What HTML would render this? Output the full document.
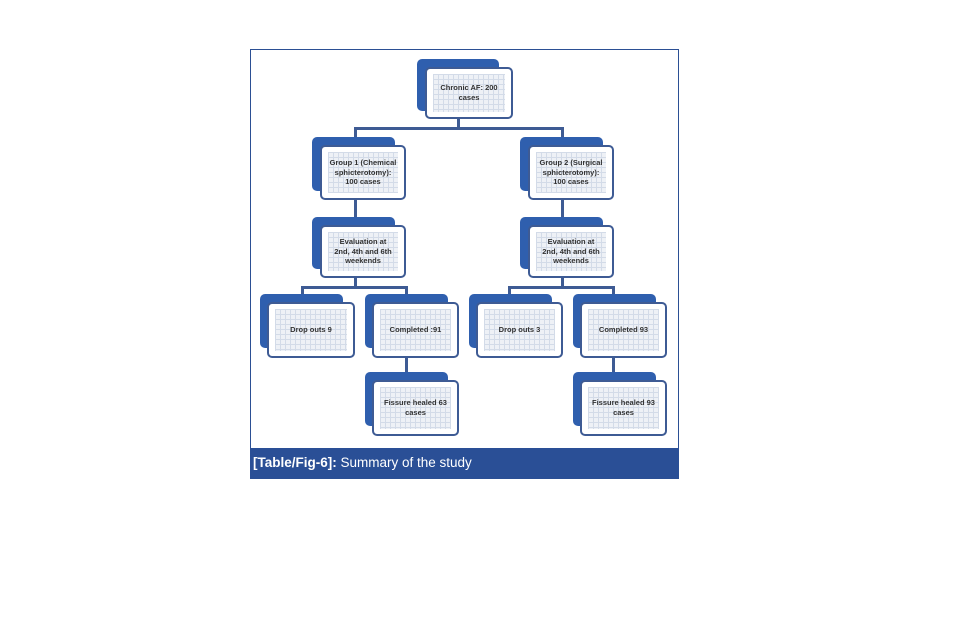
<!DOCTYPE html>
<html><head><style>
body{margin:0;width:957px;height:641px;background:#fff;position:relative;overflow:hidden;font-family:"Liberation Sans",sans-serif}
.frame{position:absolute;left:250px;top:49px;width:427px;height:428px;border:1px solid #2b4f94}
.cap{position:absolute;left:250px;top:448px;width:429px;height:30px;background:#2a4f96;color:#fff;font-size:13.5px;line-height:30px;padding-left:3px;box-sizing:border-box}
.back{position:absolute;background:#2f5fae;border-radius:5px}
.front{position:absolute;background:#fff;border:2px solid #3e5b94;border-radius:5px;box-sizing:border-box;display:flex;align-items:center;justify-content:center;text-align:center;font-size:7.5px;font-weight:bold;color:#333;line-height:1.3}
.front::before{content:"";position:absolute;left:6px;right:6px;top:5px;bottom:5px;background-color:#eef1f6;background-image:linear-gradient(#d3dbe8 1px,transparent 1px),linear-gradient(90deg,#d3dbe8 1px,transparent 1px);background-size:5px 5px;z-index:0}
.front span{position:relative;z-index:1}
.l{position:absolute;background:#3e5b94}
</style></head><body>
<div class="frame"></div>
<div class="l" style="left:457px;top:118px;width:3px;height:11px"></div>
<div class="l" style="left:354px;top:127px;width:210px;height:3px"></div>
<div class="l" style="left:354px;top:127px;width:3px;height:12px"></div>
<div class="l" style="left:561px;top:127px;width:3px;height:12px"></div>
<div class="l" style="left:354px;top:198px;width:3px;height:20px"></div>
<div class="l" style="left:561px;top:198px;width:3px;height:20px"></div>
<div class="l" style="left:354px;top:276px;width:3px;height:11px"></div>
<div class="l" style="left:561px;top:276px;width:3px;height:11px"></div>
<div class="l" style="left:301px;top:286px;width:107px;height:3px"></div>
<div class="l" style="left:508px;top:286px;width:107px;height:3px"></div>
<div class="l" style="left:301px;top:286px;width:3px;height:9px"></div>
<div class="l" style="left:405px;top:286px;width:3px;height:9px"></div>
<div class="l" style="left:508px;top:286px;width:3px;height:9px"></div>
<div class="l" style="left:612px;top:286px;width:3px;height:9px"></div>
<div class="l" style="left:405px;top:356px;width:3px;height:17px"></div>
<div class="l" style="left:612px;top:356px;width:3px;height:17px"></div>

<div class="back" style="left:417px;top:59px;width:82px;height:52px"></div>
<div class="front" style="left:425px;top:67px;width:88px;height:52px"><span>Chronic AF: 200<br>cases</span></div>

<div class="back" style="left:312px;top:137px;width:83px;height:54px"></div>
<div class="front" style="left:320px;top:145px;width:86px;height:55px"><span>Group 1 (Chemical<br>sphicterotomy):<br>100 cases</span></div>
<div class="back" style="left:520px;top:137px;width:83px;height:54px"></div>
<div class="front" style="left:528px;top:145px;width:86px;height:55px"><span>Group 2 (Surgical<br>sphicterotomy):<br>100 cases</span></div>

<div class="back" style="left:312px;top:217px;width:83px;height:52px"></div>
<div class="front" style="left:320px;top:225px;width:86px;height:53px"><span>Evaluation at<br>2nd, 4th and 6th<br>weekends</span></div>
<div class="back" style="left:520px;top:217px;width:83px;height:52px"></div>
<div class="front" style="left:528px;top:225px;width:86px;height:53px"><span>Evaluation at<br>2nd, 4th and 6th<br>weekends</span></div>

<div class="back" style="left:260px;top:294px;width:83px;height:54px"></div>
<div class="front" style="left:267px;top:302px;width:88px;height:56px"><span>Drop outs 9</span></div>
<div class="back" style="left:365px;top:294px;width:83px;height:54px"></div>
<div class="front" style="left:372px;top:302px;width:87px;height:56px"><span>Completed :91</span></div>
<div class="back" style="left:469px;top:294px;width:83px;height:54px"></div>
<div class="front" style="left:476px;top:302px;width:87px;height:56px"><span>Drop outs 3</span></div>
<div class="back" style="left:573px;top:294px;width:83px;height:54px"></div>
<div class="front" style="left:580px;top:302px;width:87px;height:56px"><span>Completed 93</span></div>

<div class="back" style="left:365px;top:372px;width:83px;height:54px"></div>
<div class="front" style="left:372px;top:380px;width:87px;height:56px"><span>Fissure healed 63<br>cases</span></div>
<div class="back" style="left:573px;top:372px;width:83px;height:54px"></div>
<div class="front" style="left:580px;top:380px;width:87px;height:56px"><span>Fissure healed 93<br>cases</span></div>

<div class="cap"><b>[Table/Fig-6]:</b> Summary of the study</div>
</body></html>
